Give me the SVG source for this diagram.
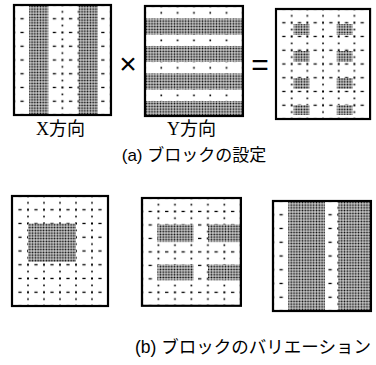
<svg xmlns="http://www.w3.org/2000/svg" width="376" height="365" viewBox="0 0 376 365">
<style>
.bg{fill:url(#grid)}
.frame{fill:none;stroke:#000;stroke-width:2.2}
.dense{fill:url(#dense)}
.lbl{font-family:"Liberation Sans","Noto Sans CJK JP",sans-serif;fill:#000}
.cap{font-family:"Liberation Sans","Noto Sans CJK JP",sans-serif;fill:#000;text-anchor:middle}
.op{font-family:"Liberation Sans",sans-serif;fill:#000;text-anchor:middle}
</style>
<defs>
<pattern id="grid" x="-4" y="-3.4" width="16" height="13.75" patternUnits="userSpaceOnUse">
<rect width="16" height="13.75" fill="#fff"/>
<rect x="3" y="2.4" width="2" height="2" fill="#000"/>
<rect x="3.2" y="9.4" width="1.6" height="1.7" fill="#000"/>
<rect x="10.4" y="2.75" width="3.2" height="1.3" fill="#000"/>
</pattern>
<pattern id="dense" width="2.75" height="2.75" patternUnits="userSpaceOnUse">
<rect width="2.75" height="2.75" fill="#fff"/>
<rect x="0.45" y="0.45" width="1.85" height="1.85" fill="#000"/>
</pattern>
</defs>

<g id="box-x" transform="translate(14,5) scale(1.01,1)">
<rect class="bg" x="0" y="0" width="96" height="110"/>
<rect class="dense" x="15" y="1" width="19" height="108"/>
<rect class="dense" x="64" y="1" width="19" height="108"/>
<rect class="frame" x="0" y="0" width="96" height="110"/>
</g>

<g id="box-y" transform="translate(145,6) scale(1.02,1)">
<rect class="bg" x="0" y="0" width="96" height="110"/>
<rect class="dense" x="1" y="12.5" width="94" height="16"/>
<rect class="dense" x="1" y="40" width="94" height="16"/>
<rect class="dense" x="1" y="67.5" width="94" height="16"/>
<rect class="dense" x="1" y="95" width="94" height="14"/>
<rect class="frame" x="0" y="0" width="96" height="110"/>
</g>

<g id="box-result" transform="translate(276,9) scale(0.98,1)">
<rect class="bg" x="0" y="0" width="96" height="110"/>
<rect class="dense" x="18" y="15" width="16" height="11"/>
<rect class="dense" x="62" y="15" width="16" height="11"/>
<rect class="dense" x="18" y="42" width="16" height="11"/>
<rect class="dense" x="62" y="42" width="16" height="11"/>
<rect class="dense" x="18" y="69" width="16" height="11"/>
<rect class="dense" x="62" y="69" width="16" height="11"/>
<rect class="dense" x="18" y="96" width="16" height="10"/>
<rect class="dense" x="62" y="96" width="16" height="10"/>
<rect class="frame" x="0" y="0" width="96" height="110"/>
</g>

<g id="box-var1" transform="translate(12,196)">
<rect class="bg" x="0" y="0" width="96" height="110"/>
<rect class="dense" x="16" y="27.5" width="48" height="38.5"/>
<rect class="frame" x="0" y="0" width="96" height="110"/>
</g>

<g id="box-var2" transform="translate(142,198) scale(1.03,0.98)">
<rect class="bg" x="0" y="0" width="96" height="110"/>
<rect class="dense" x="15" y="27" width="35" height="18"/>
<rect class="dense" x="64" y="27" width="31" height="18"/>
<rect class="dense" x="15" y="68" width="35" height="16"/>
<rect class="dense" x="64" y="68" width="31" height="16"/>
<rect class="frame" x="0" y="0" width="96" height="110"/>
</g>

<g id="box-var3" transform="translate(273,201) scale(1.02,1)">
<rect class="bg" x="0" y="0" width="96" height="110"/>
<rect class="dense" x="15" y="1" width="36" height="108"/>
<rect class="dense" x="64" y="1" width="31" height="108"/>
<rect class="frame" x="0" y="0" width="96" height="110"/>
</g>

<text class="op" x="128" y="74" font-size="30">×</text>
<text class="op" x="260" y="75" font-size="30">=</text>
<text class="lbl" x="36" y="135" font-size="18"><tspan font-family="Liberation Serif">X</tspan>方向</text>
<text class="lbl" x="167" y="135" font-size="18"><tspan font-family="Liberation Serif">Y</tspan>方向</text>
<text class="cap" x="194" y="161" font-size="17">(a) ブロックの設定</text>
<text class="cap" x="253" y="353" font-size="17.5">(b) ブロックのバリエーション</text>
</svg>
